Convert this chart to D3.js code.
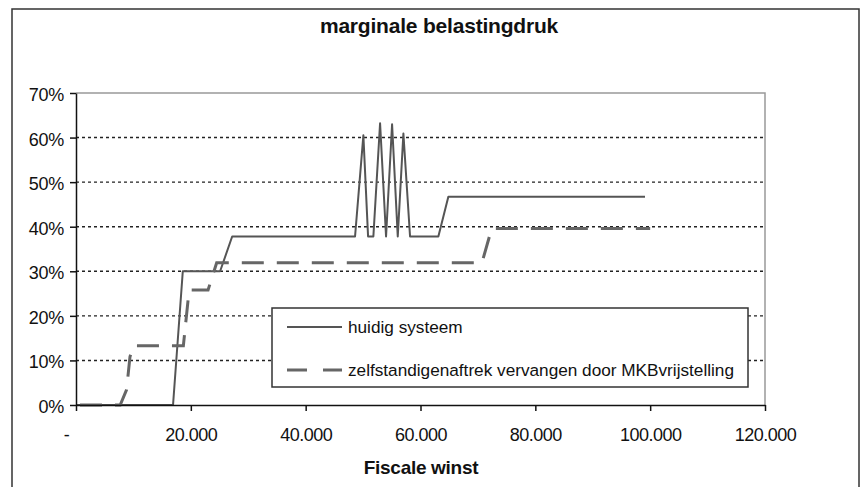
<!DOCTYPE html>
<html>
<head>
<meta charset="utf-8">
<script src="https://cdn.jsdelivr.net/npm/d3@7"></script>
<style>
html,body{margin:0;padding:0;background:#fff;}
svg{display:block;}
text{font-family:"Liberation Sans",Arial,sans-serif;fill:#111;}
</style>
</head>
<body>
<svg id="chart" width="861" height="487"></svg>
<script>
// ---- data ----
const title = "marginale belastingdruk";
const xTitle = "Fiscale winst";
const seriesNames = ["huidig systeem", "zelfstandigenaftrek vervangen door MKBvrijstelling"];
const huidigX = [0, 16900, 18600, 25100, 27200, 48600, 50050, 50870, 51790, 52960, 54000, 55050, 56040, 57020, 58180, 63110, 64850, 99100];
const huidigY = [0, 0, 30, 30, 37.8, 37.8, 60.5, 37.8, 37.8, 63.2, 37.8, 63, 37.8, 60.9, 37.8, 37.8, 46.7, 46.7];
const mkbX = [0, 7700, 8800, 9400, 10000, 18700, 19700, 23000, 24500, 70700, 72400, 100000];
const mkbY = [0, 0, 3.4, 10.8, 13.3, 13.3, 25.8, 25.8, 31.9, 31.9, 39.6, 39.6];
const xTicks = [0, 20000, 40000, 60000, 80000, 100000, 120000];
const yTicks = [0, 10, 20, 30, 40, 50, 60, 70];

// ---- layout ----
const svg = d3.select("#chart");
const L = 76, R = 765, T = 93, B = 405;
const x = d3.scaleLinear().domain([0, 120000]).range([L, R]);
const y = d3.scaleLinear().domain([0, 70]).range([B, T]);
const nl = d3.formatLocale({decimal: ",", thousands: ".", grouping: [3], currency: ["", ""]});
const fmt = nl.format(",");

// outer frame
svg.append("rect").attr("x", 12).attr("y", 9).attr("width", 847).attr("height", 500)
  .attr("fill", "#fff").attr("stroke", "#333").attr("stroke-width", 1.5);

// title
svg.append("text").attr("x", 439).attr("y", 33).attr("text-anchor", "middle")
  .attr("font-size", 21).attr("font-weight", "bold").attr("letter-spacing", -0.2).text(title);

// gridlines
svg.append("g").selectAll("line").data(yTicks.filter(d => d > 0 && d < 70)).join("line")
  .attr("x1", L).attr("x2", R).attr("y1", d => y(d)).attr("y2", d => y(d))
  .attr("stroke", "#222").attr("stroke-width", 1.4).attr("stroke-dasharray", "3,3");

// plot border top/right
svg.append("path").attr("d", `M${L},${T}H${R}V${B}`).attr("fill", "none")
  .attr("stroke", "#999").attr("stroke-width", 1.5);

// lines
const line = d3.line().x(d => x(d[0])).y(d => y(d[1]));
svg.append("path").datum(huidigX.map((v, i) => [v, huidigY[i]]))
  .attr("d", line).attr("fill", "none").attr("stroke", "#555").attr("stroke-width", 2)
  .attr("stroke-linejoin", "round");
svg.append("path").datum(mkbX.map((v, i) => [v, mkbY[i]]))
  .attr("d", line).attr("fill", "none").attr("stroke", "#666").attr("stroke-width", 3)
  .attr("stroke-dasharray", "22,13").attr("stroke-dashoffset", -4);

// axes
const yAxis = svg.append("g").attr("transform", `translate(${L},0)`)
  .call(d3.axisLeft(y).tickValues(yTicks).tickSize(6).tickSizeOuter(0).tickPadding(6).tickFormat(d => d + "%"));
const xAxis = svg.append("g").attr("transform", `translate(0,${B})`)
  .call(d3.axisBottom(x).tickValues(xTicks).tickSize(6).tickSizeOuter(0).tickFormat(d => d === 0 ? "-" : fmt(d)));
[yAxis, xAxis].forEach(g => {
  g.select(".domain").attr("stroke", "#111").attr("stroke-width", 1.5);
  g.selectAll(".tick line").attr("stroke", "#111").attr("stroke-width", 1.5);
  g.selectAll("text").attr("font-family", "Liberation Sans, Arial, sans-serif").attr("fill", "#111");
});
yAxis.selectAll("text").attr("font-size", 18).attr("letter-spacing", -0.3).attr("dy", "0.42em");
xAxis.selectAll("text").attr("font-size", 18).attr("letter-spacing", -0.5).attr("dy", null).attr("y", 36)
  .attr("dx", d => d === 0 ? -10 : 0);

// x axis title
svg.append("text").attr("x", 421).attr("y", 474).attr("text-anchor", "middle")
  .attr("font-size", 19).attr("font-weight", "bold").attr("letter-spacing", -0.3).text(xTitle);

// legend
const lg = svg.append("g");
lg.append("rect").attr("x", 272).attr("y", 308).attr("width", 476).attr("height", 79)
  .attr("fill", "#fff").attr("stroke", "#333").attr("stroke-width", 1.5);
const legY = [327, 370];
lg.append("line").attr("x1", 287).attr("x2", 342).attr("y1", legY[0]).attr("y2", legY[0])
  .attr("stroke", "#555").attr("stroke-width", 2);
lg.append("line").attr("x1", 287).attr("x2", 342).attr("y1", legY[1]).attr("y2", legY[1])
  .attr("stroke", "#666").attr("stroke-width", 3).attr("stroke-dasharray", "20,16");
lg.selectAll("text").data(seriesNames).join("text")
  .attr("x", 348).attr("y", (d, i) => legY[i]).attr("dy", "0.35em")
  .attr("font-size", 17.2).text(d => d);
</script>
</body>
</html>
